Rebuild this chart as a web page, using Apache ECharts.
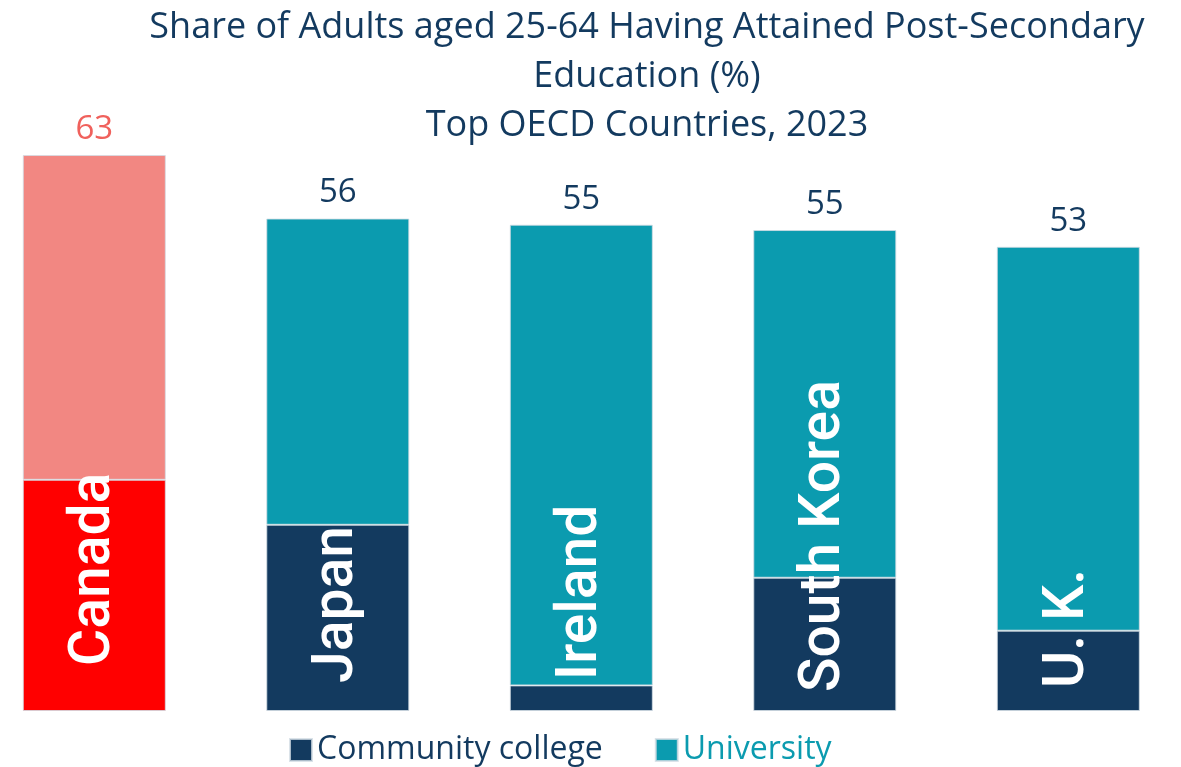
<!DOCTYPE html>
<html>
<head>
<meta charset="utf-8">
<title>Post-Secondary Attainment, Top OECD Countries 2023</title>
<script src="https://cdn.jsdelivr.net/npm/echarts@6/dist/echarts.min.js"></script>
<style>
  html, body { margin: 0; padding: 0; background: #ffffff; }
  #chart { width: 1181px; height: 767px; }
</style>
</head>
<body>
<div id="chart"></div>
<script>
// Share of adults aged 25-64 with post-secondary education (%), 2023
const countries = ['Canada', 'Japan', 'Ireland', 'South Korea', 'U. K.'];
const communityCollege = [26.2, 21.1, 2.9, 15.1, 9.1];
const university = [36.8, 34.7, 52.2, 39.4, 43.5];

// Country-name lift above the bar base, in pixels
const nameLift = [45, 28, 31, 19, 23];

const NAVY = '#133A5F';
const TEAL = '#0B9BAF';
const CANADA_CC = '#FF0000';
const CANADA_UNI = '#F28782';
const CANADA_LABEL = '#F0615C';
const FONT = '"Open Sans", Lato, sans-serif';

const totals = communityCollege.map((v, i) => Math.round((v + university[i]) * 10) / 10);

const chart = echarts.init(document.getElementById('chart'), null, { renderer: 'canvas' });

const ccData = communityCollege.map((v, i) => ({
  value: v,
  itemStyle: i === 0 ? { color: CANADA_CC } : undefined,
  label: {
    show: true,
    formatter: countries[i],
    position: 'insideBottom',
    rotate: 90,
    align: 'left',
    verticalAlign: 'middle',
    distance: nameLift[i],
    color: '#ffffff',
    fontFamily: 'Roboto, sans-serif',
    fontWeight: 500,
    fontSize: 57
  }
}));

const uniData = university.map((v, i) => ({
  value: v,
  itemStyle: i === 0 ? { color: CANADA_UNI } : undefined,
  label: {
    show: true,
    position: 'top',
    distance: 9,
    formatter: String(Math.round(totals[i])),
    color: i === 0 ? CANADA_LABEL : NAVY,
    fontFamily: FONT,
    fontWeight: 'normal',
    fontSize: 33
  }
}));

chart.setOption({
  animation: false,
  backgroundColor: '#ffffff',
  title: {
    text: 'Share of Adults aged 25-64 Having Attained Post-Secondary\nEducation (%)\nTop OECD Countries, 2023',
    left: 647,
    top: 0,
    padding: [3, 0, 0, 0],
    textAlign: 'center',
    textStyle: {
      color: NAVY,
      fontFamily: FONT,
      fontWeight: 'normal',
      fontSize: 36,
      lineHeight: 49
    }
  },
  legend: {
    left: 284,
    top: 729,
    itemWidth: 22,
    itemHeight: 22,
    itemGap: 52,
    icon: 'rect',
    selectedMode: false,
    textStyle: { fontFamily: FONT, fontWeight: 'normal', fontSize: 32, padding: [0, 0, 0, 0] },
    data: [
      { name: 'Community college', textStyle: { color: NAVY } },
      { name: 'University', textStyle: { color: TEAL } }
    ]
  },
  // Category points sit on the grid edges, so the outer bars are centred on them
  grid: {
    left: 94.3,
    right: 112.7,
    top: 93.25,
    bottom: 56,
    containLabel: false
  },
  xAxis: {
    type: 'category',
    boundaryGap: false,
    data: countries,
    axisLine: { show: false },
    axisTick: { show: false },
    axisLabel: { show: false },
    splitLine: { show: false }
  },
  yAxis: {
    type: 'value',
    min: 0,
    max: 70,
    show: false,
    splitLine: { show: false }
  },
  series: [
    {
      name: 'Community college',
      type: 'bar',
      stack: 'total',
      barWidth: 143,
      z: 3,
      itemStyle: { color: NAVY, borderColor: 'rgba(210,220,228,0.8)', borderWidth: 1 },
      data: ccData
    },
    {
      name: 'University',
      type: 'bar',
      stack: 'total',
      barWidth: 143,
      z: 2,
      itemStyle: { color: TEAL, borderColor: 'rgba(210,220,228,0.8)', borderWidth: 1 },
      data: uniData
    }
  ]
});
</script>
</body>
</html>
